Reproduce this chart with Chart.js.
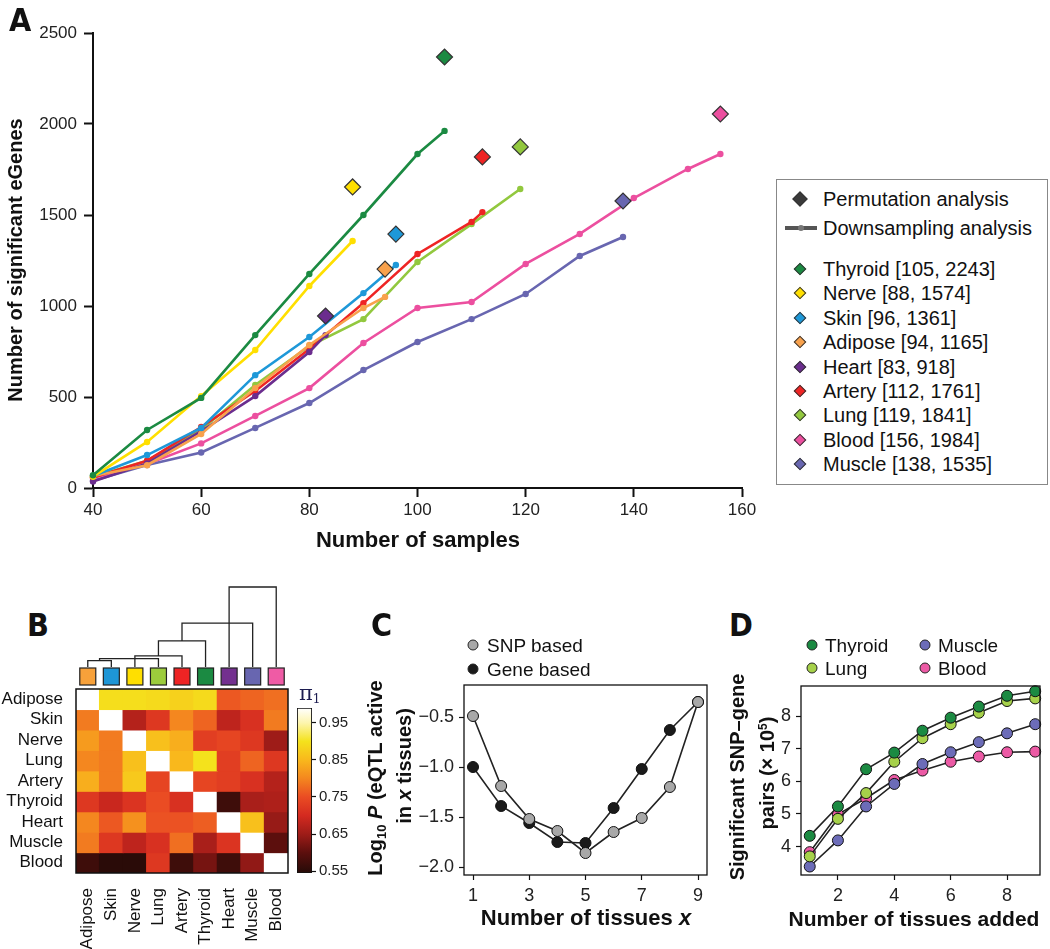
<!DOCTYPE html>
<html>
<head>
<meta charset="utf-8">
<title>eGenes, tissue sharing and discovery</title>
<script src="https://cdn.jsdelivr.net/npm/chart.js@4.4.1/dist/chart.umd.min.js"></script>
<style>
    body { margin: 0; background: #fff; }
    #fig { position: relative; width: 1050px; height: 949px; overflow: hidden;
           font-family: "Liberation Sans", Arial, Helvetica, sans-serif; color: #111; }
    .box { position: absolute; }
    canvas { display: block; }
    .letter { position: absolute; line-height: 1; color: #111;
              font: bold 32px "Liberation Sans Narrow", "DejaVu Sans Condensed", "Liberation Sans", sans-serif; }
    .title { position: absolute; font-weight: bold; font-size: 22px; line-height: 1; white-space: nowrap;
             transform: translate(-50%, -50%); }
    .title.rot { transform: translate(-50%, -50%) rotate(-90deg); font-size: 20px; }
    .leg { position: absolute; font-size: 19px; line-height: 19px; white-space: nowrap; }
    .legA { font-size: 20px; line-height: 20px; }
    .dot { position: absolute; width: 11px; height: 11px; border-radius: 50%; border: 1px solid #222;
           box-sizing: border-box; transform: translate(-50%, -50%); }
    .dia { position: absolute; border: 1px solid #333; box-sizing: border-box;
           transform: translate(-50%, -50%) rotate(45deg); }
</style>
</head>
<body>
<div id="fig">
    <!-- A -->
    <div class="box" style="left:0;top:0;width:770px;height:560px"><canvas id="chartA" width="770" height="560"></canvas></div>
    <div class="letter" style="left:9px;top:1px">A</div>
    <div class="title rot" style="left:15px;top:260px">Number of significant eGenes</div>
    <div class="title" style="left:418px;top:540px">Number of samples</div>
    <div id="legendA" class="box" style="left:776px;top:179px;width:272px;height:306px;border:1px solid #888;box-sizing:border-box"></div>

    <!-- B -->
    <div class="letter" style="left:27px;top:606px">B</div>
    <div class="box" style="left:0;top:580px;width:340px;height:369px"><canvas id="chartB" width="340" height="369"></canvas></div>
    <div class="box" style="left:290px;top:690px;width:60px;height:200px"><canvas id="chartCb" width="60" height="200"></canvas></div>
    <div class="box" style="left:299px;top:683px;font:21px 'DejaVu Serif','Liberation Serif',serif;color:#1c1c50;line-height:1">π<span style="font-size:12px;vertical-align:-3px">1</span></div>

    <!-- C -->
    <div class="letter" style="left:371px;top:606px">C</div>
    <div class="box" style="left:340px;top:580px;width:380px;height:369px"><canvas id="chartC" width="380" height="369"></canvas></div>
    <div class="dot" style="left:473px;top:645px;background:#a8a8a8"></div>
    <div class="leg" style="left:487px;top:636px">SNP based</div>
    <div class="dot" style="left:473px;top:669px;background:#1a1a1a"></div>
    <div class="leg" style="left:487px;top:660px">Gene based</div>
    <div class="title rot" style="left:376px;top:778px">Log<span style="font-size:13px;vertical-align:-4px">10</span> <i>P</i> (eQTL active</div>
    <div class="title rot" style="left:404px;top:766px">in <i>x</i> tissues)</div>
    <div class="title" style="left:586px;top:918px">Number of tissues <i>x</i></div>

    <!-- D -->
    <div class="letter" style="left:729px;top:606px">D</div>
    <div class="box" style="left:690px;top:580px;width:360px;height:369px"><canvas id="chartD" width="360" height="369"></canvas></div>
    <div id="legendD"></div>
    <div class="title rot" style="left:737px;top:777px">Significant SNP–gene</div>
    <div class="title rot" style="left:767px;top:773px">pairs (× 10<span style="font-size:12px;vertical-align:7px">5</span>)</div>
    <div class="title" style="left:914px;top:918px;font-size:21px">Number of tissues added</div>
</div>

<script>
// ─── Panel A data ─────────────────────────────────────────────────────────────
const tissuesA = ['Thyroid', 'Nerve', 'Skin', 'Adipose', 'Heart', 'Artery', 'Lung', 'Blood', 'Muscle'];
const colorsA = ['#1b8a42', '#ffdf00', '#1e98d8', '#f8a14c', '#6b2d8e', '#ee2424', '#92c83e', '#ec4f9f', '#6866b0'];
const legendSamples = [105, 88, 96, 94, 83, 112, 119, 156, 138];
const legendEGenes = [2243, 1574, 1361, 1165, 918, 1761, 1841, 1984, 1535];

const permSamples = [105, 88, 96, 94, 83, 112, 119, 156, 138];
const permEGenes = [2368, 1654, 1395, 1203, 945, 1819, 1874, 2055, 1577];

const thyroidN = [40, 50, 60, 70, 80, 90, 100, 105];
const thyroidG = [70, 319, 495, 840, 1176, 1500, 1835, 1962];
const nerveN = [40, 50, 60, 70, 80, 88];
const nerveG = [62, 253, 505, 758, 1110, 1357];
const skinN = [40, 50, 60, 70, 80, 90, 96];
const skinG = [66, 181, 330, 620, 830, 1071, 1225];
const adiposeN = [40, 50, 60, 70, 80, 90, 94];
const adiposeG = [66, 125, 297, 549, 786, 989, 1050];
const heartN = [40, 50, 60, 70, 80, 83];
const heartG = [36, 135, 312, 505, 747, 840];
const arteryN = [40, 50, 60, 70, 80, 90, 100, 110, 112];
const arteryG = [58, 150, 335, 533, 764, 1016, 1286, 1462, 1516];
const lungN = [40, 50, 60, 70, 80, 90, 100, 110, 119];
const lungG = [62, 150, 320, 566, 780, 928, 1242, 1450, 1643];
const bloodN = [40, 50, 60, 70, 80, 90, 100, 110, 120, 130, 140, 150, 156];
const bloodG = [55, 132, 245, 396, 549, 797, 989, 1022, 1231, 1396, 1593, 1753, 1835];
const muscleN = [40, 50, 60, 70, 80, 90, 100, 110, 120, 130, 138];
const muscleG = [40, 126, 195, 330, 467, 648, 802, 928, 1066, 1275, 1379];

const downN = [thyroidN, nerveN, skinN, adiposeN, heartN, arteryN, lungN, bloodN, muscleN];
const downG = [thyroidG, nerveG, skinG, adiposeG, heartG, arteryG, lungG, bloodG, muscleG];

// ─── Panel B data ─────────────────────────────────────────────────────────────
const tissuesB = ['Adipose', 'Skin', 'Nerve', 'Lung', 'Artery', 'Thyroid', 'Heart', 'Muscle', 'Blood'];
const clusterColors = ['#f7a13a', '#1e96d6', '#ffdf00', '#9ccc3c', '#ee2424', '#1b8a42', '#73308f', '#6866b0', '#ef5ba5'];
const piAdipose = [1, 0.895, 0.895, 0.89, 0.88, 0.89, 0.76, 0.77, 0.78];
const piSkin = [0.79, 1, 0.67, 0.72, 0.8, 0.77, 0.68, 0.71, 0.79];
const piNerve = [0.82, 0.79, 1, 0.86, 0.84, 0.73, 0.74, 0.72, 0.65];
const piLung = [0.8, 0.79, 0.86, 1, 0.85, 0.9, 0.73, 0.77, 0.72];
const piArtery = [0.84, 0.79, 0.87, 0.74, 1, 0.74, 0.73, 0.71, 0.67];
const piThyroid = [0.72, 0.69, 0.715, 0.75, 0.71, 1, 0.57, 0.66, 0.665];
const piHeart = [0.8, 0.76, 0.81, 0.755, 0.755, 0.765, 1, 0.86, 0.645];
const piMuscle = [0.79, 0.72, 0.68, 0.71, 0.78, 0.66, 0.715, 1, 0.6];
const piBlood = [0.57, 0.55, 0.55, 0.72, 0.57, 0.62, 0.57, 0.64, 1];
const piRows = [piAdipose, piSkin, piNerve, piLung, piArtery, piThyroid, piHeart, piMuscle, piBlood];

// dendrogram links, in column units; heights relative to the tallest link
const dendroLeft = [0, 0.5, 2, 3, 4, 6];
const dendroRight = [1, 3, 4, 5, 7, 8];
const dendroHeight = [0.079, 0.104, 0.138, 0.326, 0.548, 1.0];
const dendroLeftFoot = [0, 0.079, 0, 0.138, 0.326, 0];
const dendroRightFoot = [0, 0, 0, 0, 0, 0];

const piStops = [0.5, 0.55, 0.6, 0.65, 0.7, 0.75, 0.8, 0.85, 0.9, 0.95, 0.99];
const piStopColors = ['#474747', '#2a0b08', '#5c0f0d', '#9e1c18', '#d42a20', '#ea4c23', '#f4871f',
                      '#f9b81c', '#f4e21c', '#fdf5ae', '#ffffff'];
const cbMin = 0.545;
const cbMax = 0.99;
const cbTicks = [0.55, 0.6, 0.65, 0.7, 0.75, 0.8, 0.85, 0.9, 0.95];
const cbLabels = [0.55, 0.65, 0.75, 0.85, 0.95];

// ─── Panel C data ─────────────────────────────────────────────────────────────
const tissueCount = [1, 2, 3, 4, 5, 6, 7, 8, 9];
const snpBased = [-0.49, -1.19, -1.52, -1.64, -1.86, -1.65, -1.51, -1.2, -0.35];
const geneBased = [-1.0, -1.39, -1.56, -1.75, -1.76, -1.41, -1.02, -0.63, -0.35];
const ticksCx = [1, 3, 5, 7, 9];
const ticksCy = [-2.0, -1.5, -1.0, -0.5];

// ─── Panel D data ─────────────────────────────────────────────────────────────
const tissuesAdded = [1, 2, 3, 4, 5, 6, 7, 8, 9];
const tissuesD = ['Thyroid', 'Lung', 'Muscle', 'Blood'];
const colorsD = ['#1b8a42', '#a6d14a', '#6c6cb8', '#ec5aa5'];
const thyroidPairs = [4.33, 5.23, 6.37, 6.88, 7.55, 7.95, 8.29, 8.62, 8.76];
const lungPairs = [3.7, 4.85, 5.64, 6.6, 7.32, 7.75, 8.1, 8.46, 8.54];
const musclePairs = [3.39, 4.19, 5.23, 5.92, 6.53, 6.89, 7.2, 7.47, 7.75];
const bloodPairs = [3.83, 4.99, 5.48, 6.04, 6.33, 6.6, 6.76, 6.89, 6.91];
const pairsD = [thyroidPairs, lungPairs, musclePairs, bloodPairs];
const ticksDx = [2, 4, 6, 8];
const ticksDy = [4, 5, 6, 7, 8];

// ─── Shared defaults ──────────────────────────────────────────────────────────
Chart.defaults.font.family = '"Liberation Sans", Arial, Helvetica, sans-serif';
Chart.defaults.color = '#222';
Chart.defaults.animation = false;
Chart.defaults.responsive = false;
Chart.defaults.plugins.legend.display = false;
Chart.defaults.plugins.tooltip.enabled = false;

const hexRgb = h => [1, 3, 5].map(i => parseInt(h.slice(i, i + 2), 16));

function piColor(v) {
    const n = piStops.length - 1;
    if (v >= piStops[n]) return piStopColors[n];
    if (v <= piStops[0]) return piStopColors[0];
    let i = 0;
    while (v > piStops[i + 1]) i++;
    const t = (v - piStops[i]) / (piStops[i + 1] - piStops[i]);
    const a = hexRgb(piStopColors[i]);
    const b = hexRgb(piStopColors[i + 1]);
    const c = a.map((x, k) => Math.round(x + (b[k] - x) * t));
    return `rgb(${c[0]},${c[1]},${c[2]})`;
}

const frame = {
    id: 'frame',
    afterDraw(chart) {
        const { ctx, chartArea: a } = chart;
        ctx.save();
        ctx.strokeStyle = '#111';
        ctx.lineWidth = 1.3;
        ctx.strokeRect(a.left, a.top, a.right - a.left, a.bottom - a.top);
        ctx.restore();
    },
};

const boxedAxis = (min, max, values, fmt, fit) => ({
    type: 'linear',
    min,
    max,
    afterBuildTicks: s => { s.ticks = values.map(v => ({ value: v })); },
    afterFit: fit,
    ticks: { callback: fmt, font: { size: 18 }, color: '#222', padding: 5 },
    grid: { display: true, drawOnChartArea: false, tickLength: 5, tickWidth: 1.2, tickColor: '#111' },
    border: { display: false },
});

const minus = v => v.toFixed(1).replace('-', '\u2212');

// ─── Panel A ──────────────────────────────────────────────────────────────────
const rAxisA = {
    grid: { display: true, drawOnChartArea: false, tickLength: 9, tickWidth: 2, tickColor: '#111' },
    border: { display: true, color: '#111', width: 2 },
};

new Chart(document.getElementById('chartA'), {
    type: 'scatter',
    data: {
        datasets: [
            {
                label: 'Permutation analysis',
                data: permSamples.map((x, i) => ({ x, y: permEGenes[i] })),
                pointStyle: 'rectRot',
                pointRadius: 8,
                pointBackgroundColor: colorsA,
                pointBorderColor: '#333',
                pointBorderWidth: 1.2,
                clip: false,
            },
            ...tissuesA.map((t, i) => ({
                label: t,
                data: downN[i].map((x, j) => ({ x, y: downG[i][j] })),
                showLine: true,
                borderColor: colorsA[i],
                borderWidth: 2.6,
                pointRadius: 3.2,
                pointBorderWidth: 0,
                pointBackgroundColor: colorsA[i],
                clip: false,
            })),
        ],
    },
    options: {
        layout: { padding: { left: 0, top: 33, right: 28, bottom: 0 } },
        scales: {
            x: {
                min: 40, max: 160,
                ticks: { stepSize: 20, callback: v => String(v), font: { size: 17 }, color: '#222', padding: 3 },
                ...rAxisA,
                afterFit: s => { s.height = 72; },
            },
            y: {
                min: 0, max: 2500,
                ticks: { stepSize: 500, callback: v => String(v), font: { size: 17 }, color: '#222', padding: 7 },
                ...rAxisA,
                afterFit: s => { s.width = 93; },
            },
        },
    },
});

// legend A
const legA = document.getElementById('legendA');
function legRow(cy, markerHtml, text) {
    legA.insertAdjacentHTML('beforeend',
        markerHtml + `<div class="leg legA" style="left:46px;top:${cy - 10}px">${text}</div>`);
}
legRow(19, '<div class="dia" style="left:23px;top:19px;width:11px;height:11px;background:#3a3a3a"></div>',
    'Permutation analysis');
legRow(48, '<div style="position:absolute;left:8px;top:46px;width:32px;height:4px;background:#555"></div>' +
    '<div style="position:absolute;left:21px;top:45px;width:6px;height:6px;border-radius:50%;background:#777"></div>',
    'Downsampling analysis');
tissuesA.forEach((t, i) => {
    const cy = 89 + i * 24.4;
    legRow(cy, `<div class="dia" style="left:23px;top:${cy}px;width:9px;height:9px;background:${colorsA[i]}"></div>`,
        `${t} [${legendSamples[i]}, ${legendEGenes[i]}]`);
});

// ─── Panel B ──────────────────────────────────────────────────────────────────
const heatmapDecor = {
    id: 'heatmapDecor',
    afterDraw(chart) {
        const { ctx, chartArea: a, scales: { x } } = chart;
        ctx.save();
        ctx.strokeStyle = '#111';
        ctx.lineWidth = 1.5;
        ctx.strokeRect(a.left, a.top, a.right - a.left, a.bottom - a.top);

        clusterColors.forEach((c, i) => {
            const cx = x.getPixelForValue(i);
            ctx.fillStyle = c;
            ctx.fillRect(cx - 8, a.top - 21, 16, 17);
            ctx.lineWidth = 1.2;
            ctx.strokeStyle = '#222';
            ctx.strokeRect(cx - 8, a.top - 21, 16, 17);
        });

        const base = a.top - 22;
        const span = 80;
        ctx.strokeStyle = '#222';
        ctx.lineWidth = 1.3;
        dendroLeft.forEach((l, k) => {
            const xl = x.getPixelForValue(l);
            const xr = x.getPixelForValue(dendroRight[k]);
            const yh = base - dendroHeight[k] * span;
            ctx.beginPath();
            ctx.moveTo(xl, base - dendroLeftFoot[k] * span);
            ctx.lineTo(xl, yh);
            ctx.lineTo(xr, yh);
            ctx.lineTo(xr, base - dendroRightFoot[k] * span);
            ctx.stroke();
        });
        ctx.restore();
    },
};

new Chart(document.getElementById('chartB'), {
    type: 'bar',
    data: {
        labels: tissuesB,
        datasets: piRows.map((row, r) => ({
            label: tissuesB[r],
            data: row.map(() => [r, r + 1]),
            backgroundColor: row.map(piColor),
            borderWidth: 0,
            barPercentage: 1,
            categoryPercentage: 1,
            grouped: false,
            inflateAmount: 0.6,
        })),
    },
    options: {
        layout: { padding: { left: 0, top: 109, right: 52, bottom: 0 } },
        scales: {
            x: {
                ticks: { font: { size: 17 }, color: '#111', minRotation: 90, maxRotation: 90, autoSkip: false, padding: 7 },
                grid: { display: false },
                border: { display: false },
                afterFit: s => { s.height = 76; },
            },
            y: {
                min: 0, max: 9, reverse: true,
                afterBuildTicks: s => { s.ticks = tissuesB.map((_, i) => ({ value: i + 0.5 })); },
                ticks: { callback: v => tissuesB[Math.floor(v)], font: { size: 17 }, color: '#111', padding: 5, autoSkip: false },
                grid: { display: false },
                border: { display: false },
                afterFit: s => { s.width = 76; },
            },
        },
    },
    plugins: [heatmapDecor],
});

// colour bar
const piGradient = c => {
    const ch = c.chart;
    const ys = ch.scales.y;
    if (!ys || !ch.chartArea) return '#fff';
    const lo = piStops[0];
    const hi = piStops[piStops.length - 1];
    const g = ch.ctx.createLinearGradient(0, ys.getPixelForValue(lo), 0, ys.getPixelForValue(hi));
    piStops.forEach((v, i) => g.addColorStop((v - lo) / (hi - lo), piStopColors[i]));
    return g;
};

new Chart(document.getElementById('chartCb'), {
    type: 'bar',
    data: {
        labels: ['π1'],
        datasets: [{
            data: [[cbMin, cbMax]],
            backgroundColor: piGradient,
            borderColor: '#111',
            borderWidth: 1.2,
            borderSkipped: false,
            barPercentage: 1,
            categoryPercentage: 1,
        }],
    },
    options: {
        layout: { padding: { left: 7, top: 18, right: 0, bottom: 17 } },
        scales: {
            x: { display: false },
            y: {
                position: 'right',
                min: cbMin, max: cbMax,
                afterBuildTicks: s => { s.ticks = cbTicks.map(v => ({ value: v })); },
                ticks: { callback: v => (cbLabels.includes(v) ? v.toFixed(2) : ''), font: { size: 15 }, color: '#222', padding: 3 },
                grid: { display: true, drawOnChartArea: false, tickLength: 4, tickWidth: 1.2, tickColor: '#111' },
                border: { display: false },
                afterFit: s => { s.width = 38; },
            },
        },
    },
});

// ─── Panel C ──────────────────────────────────────────────────────────────────
const lineDot = (values, fill) => ({
    data: tissueCount.map((x, i) => ({ x, y: values[i] })),
    showLine: true,
    borderColor: '#222',
    borderWidth: 1.6,
    pointRadius: 5.5,
    pointBackgroundColor: fill,
    pointBorderColor: '#111',
    pointBorderWidth: 1,
    clip: false,
});

new Chart(document.getElementById('chartC'), {
    type: 'scatter',
    data: {
        datasets: [
            { label: 'SNP based', ...lineDot(snpBased, '#a8a8a8') },
            { label: 'Gene based', ...lineDot(geneBased, '#1a1a1a') },
        ],
    },
    options: {
        layout: { padding: { left: 0, top: 105, right: 13, bottom: 0 } },
        scales: {
            x: boxedAxis(0.68, 9.32, ticksCx, v => String(v), s => { s.height = 74; }),
            y: boxedAxis(-2.08, -0.18, ticksCy, minus, s => { s.width = 124; }),
        },
    },
    plugins: [frame],
});

// ─── Panel D ──────────────────────────────────────────────────────────────────
new Chart(document.getElementById('chartD'), {
    type: 'scatter',
    data: {
        datasets: tissuesD.map((t, i) => ({
            label: t,
            data: tissuesAdded.map((x, j) => ({ x, y: pairsD[i][j] })),
            showLine: true,
            borderColor: '#222',
            borderWidth: 1.6,
            pointRadius: 5.5,
            pointBackgroundColor: colorsD[i],
            pointBorderColor: '#111',
            pointBorderWidth: 1,
            clip: false,
        })),
    },
    options: {
        layout: { padding: { left: 0, top: 106, right: 10, bottom: 0 } },
        scales: {
            x: boxedAxis(0.69, 9.17, ticksDx, v => String(v), s => { s.height = 74; }),
            y: boxedAxis(3.13, 8.92, ticksDy, v => String(v), s => { s.width = 111; }),
        },
    },
    plugins: [frame],
});

// legend D
const legD = document.getElementById('legendD');
const legDPos = [[812, 645], [812, 668], [925, 645], [925, 668]];
tissuesD.forEach((t, i) => {
    const [x, y] = legDPos[i];
    legD.insertAdjacentHTML('beforeend',
        `<div class="dot" style="left:${x}px;top:${y}px;background:${colorsD[i]}"></div>` +
        `<div class="leg" style="left:${x + 13}px;top:${y - 9}px">${t}</div>`);
});
</script>
</body>
</html>
